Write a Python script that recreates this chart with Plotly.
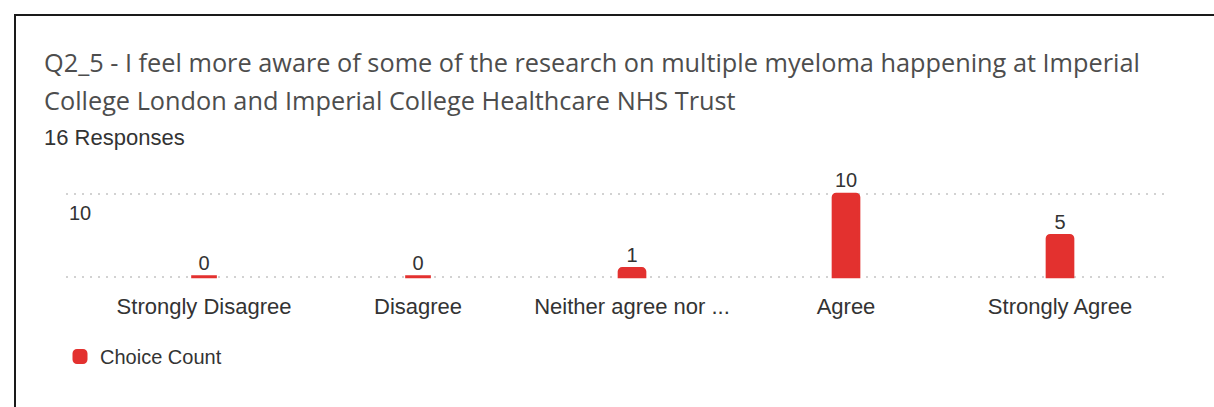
import plotly.graph_objects as go

# Survey question Q2_5, response counts per choice
categories = ["Strongly Disagree", "Disagree", "Neither agree nor ...", "Agree", "Strongly Agree"]
counts = [0, 0, 1, 10, 5]
total_responses = 16
title_lines = [
    "Q2_5 - I feel more aware of some of the research on multiple myeloma happening at Imperial",
    "College London and Imperial College Healthcare NHS Trust",
]

W, H = 1214, 407
ML, MR, MT, MB = 66, 47, 190, 126
PW, PH = W - ML - MR, H - MT - MB


def px_x(px):
    return (px - ML) / PW


def px_y(py):
    return (H - MB - py) / PH


RED = "#e3312f"
TEXT = "#4d4d4d"
LABEL = "#333333"
SANS = "Liberation Sans, Arial"

fig = go.Figure()
fig.add_trace(go.Bar(
    x=categories,
    y=counts,
    name="Choice Count",
    marker=dict(color=RED, line=dict(color=RED, width=3), cornerradius=3),
    width=0.12,
    text=[str(v) for v in counts],
    textposition="outside",
    textfont=dict(family=SANS, size=20, color=LABEL),
    cliponaxis=False,
    showlegend=True,
))

annotations = [
    dict(text=title_lines[0], x=px_x(42), y=px_y(62), xref="paper", yref="paper",
         xanchor="left", yanchor="middle", showarrow=False,
         font=dict(family="Open Sans", size=25.3, color=TEXT)),
    dict(text=title_lines[1], x=px_x(42), y=px_y(100), xref="paper", yref="paper",
         xanchor="left", yanchor="middle", showarrow=False,
         font=dict(family="Open Sans", size=25.3, color=TEXT)),
    dict(text=f"{total_responses} Responses", x=px_x(42), y=px_y(137), xref="paper", yref="paper",
         xanchor="left", yanchor="middle", showarrow=False,
         font=dict(family=SANS, size=22, color=LABEL)),
]

# Frame around the card (left and top edges)
shapes = [
    dict(type="line", xref="paper", yref="paper", x0=px_x(15), x1=px_x(15), y0=px_y(14), y1=px_y(420),
         line=dict(color="#1a1a1a", width=2)),
    dict(type="line", xref="paper", yref="paper", x0=px_x(14), x1=px_x(1230), y0=px_y(15), y1=px_y(15),
         line=dict(color="#1a1a1a", width=2)),
]

fig.update_layout(
    template="none",
    width=W, height=H,
    margin=dict(l=ML, r=MR, t=MT, b=MB, pad=0),
    paper_bgcolor="white", plot_bgcolor="white",
    annotations=annotations,
    shapes=shapes,
    xaxis=dict(
        range=[-0.645, 4.5], showgrid=False, zeroline=False, showline=False,
        ticks="", tickfont=dict(family=SANS, size=22, color=LABEL),
        ticklabelstandoff=10,
    ),
    yaxis=dict(
        range=[-0.5, 10.5], tickmode="array", tickvals=[0, 10], ticktext=["", "10"],
        showgrid=True, gridcolor="#d2d2d2", gridwidth=2, griddash="2px,6px",
        zeroline=False, showline=False, ticks="",
        ticklabelposition="inside", ticklabelshift=19, ticklabelstandoff=0,
        ticklabeloverflow="allow",
        tickfont=dict(family=SANS, size=20, color=LABEL),
    ),
    legend=dict(
        x=px_x(60), y=px_y(337), xanchor="left", yanchor="top",
        font=dict(family=SANS, size=20, color=LABEL),
        bgcolor="rgba(0,0,0,0)",
    ),
    showlegend=True,
)

fig.write_html("out.html")
